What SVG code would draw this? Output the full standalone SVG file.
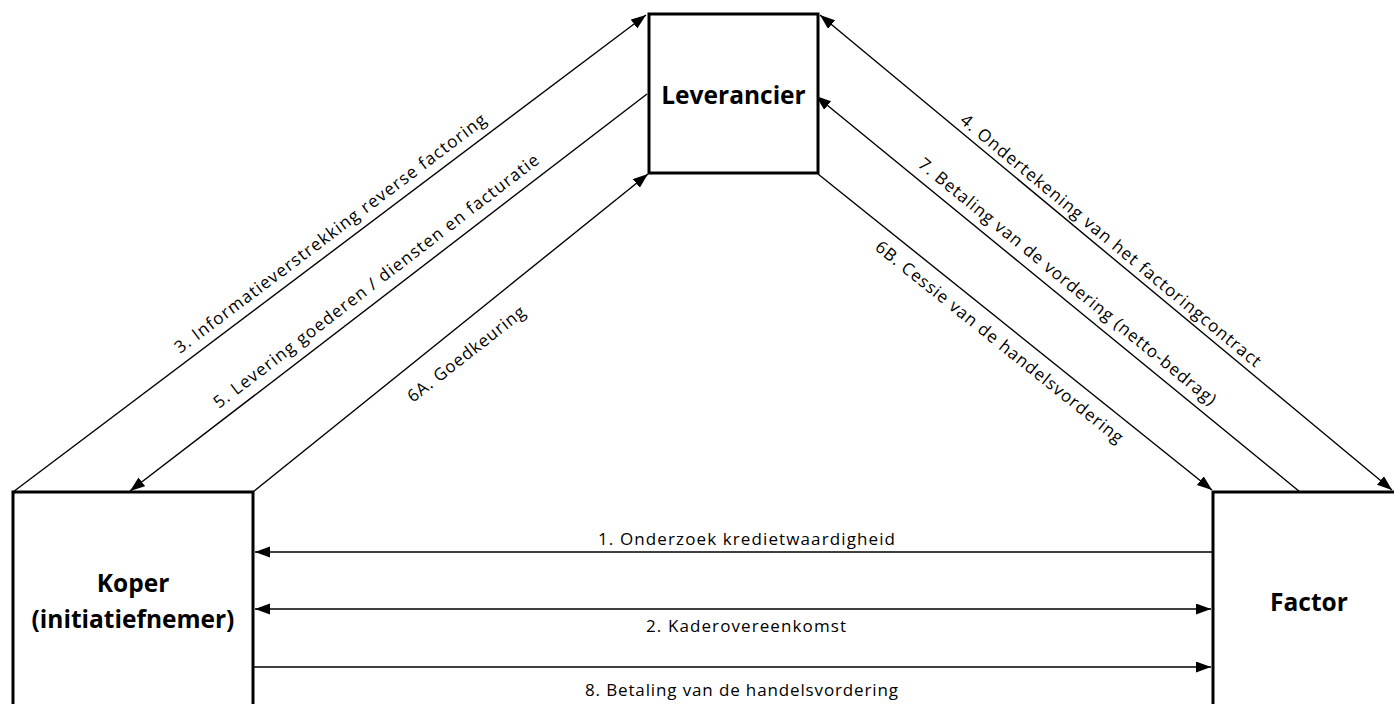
<svg xmlns="http://www.w3.org/2000/svg" width="1394" height="704" viewBox="0 0 1394 704">
<style>
.box{fill:#fff;stroke:#000;stroke-width:3}
.node{font-family:"Open Sans","Liberation Sans",sans-serif;font-weight:bold;font-size:24.5px;fill:#000;text-anchor:middle}
.lbl{font-family:"Open Sans","Liberation Sans",sans-serif;font-size:17px;fill:#000}
.con{stroke:#000;stroke-width:1.4;fill:none}
</style>
<defs>
<marker id="ah" markerUnits="userSpaceOnUse" markerWidth="16" markerHeight="12" refX="15" refY="5.5" orient="auto-start-reverse">
<path d="M0,0 L15,5.5 L0,11 z" fill="#000"/>
</marker>
</defs>
<rect width="1394" height="704" fill="#fff"/>
<g id="connectors">
<line class="con" x1="13" y1="492" x2="646" y2="15" marker-end="url(#ah)"/>
<line class="con" x1="647" y1="94" x2="130" y2="491" marker-end="url(#ah)"/>
<line class="con" x1="253" y1="492" x2="648" y2="174" marker-end="url(#ah)"/>
<line class="con" x1="820" y1="15" x2="1392" y2="490" marker-start="url(#ah)" marker-end="url(#ah)"/>
<line class="con" x1="1300" y1="492" x2="816" y2="96" marker-end="url(#ah)"/>
<line class="con" x1="818" y1="174" x2="1212" y2="490" marker-end="url(#ah)"/>
<line class="con" x1="1213" y1="552" x2="255" y2="552" marker-end="url(#ah)"/>
<line class="con" x1="255" y1="609" x2="1211" y2="609" marker-start="url(#ah)" marker-end="url(#ah)"/>
<line class="con" x1="253" y1="667" x2="1211" y2="667" marker-end="url(#ah)"/>
<text class="lbl" x="180" y="354" textLength="385" lengthAdjust="spacing" transform="rotate(-37 180 354)">3. Informatieverstrekking reverse factoring</text>
<text class="lbl" x="219" y="409" textLength="405" lengthAdjust="spacing" transform="rotate(-37.5 219 409)">5. Levering goederen / diensten en facturatie</text>
<text class="lbl" x="413" y="403" textLength="144" lengthAdjust="spacing" transform="rotate(-38 413 403)">6A. Goedkeuring</text>
<text class="lbl" x="959" y="122" textLength="385" lengthAdjust="spacing" transform="rotate(39.7 959 122)">4. Ondertekening van het factoringcontract</text>
<text class="lbl" x="917" y="166" textLength="379" lengthAdjust="spacing" transform="rotate(39.3 917 166)">7. Betaling van de vordering (netto-bedrag)</text>
<text class="lbl" x="874" y="249" textLength="312" lengthAdjust="spacing" transform="rotate(38.7 874 249)">6B. Cessie van de handelsvordering</text>
<text class="lbl" x="598" y="545" textLength="297" lengthAdjust="spacing">1. Onderzoek kredietwaardigheid</text>
<text class="lbl" x="646" y="632" textLength="200" lengthAdjust="spacing">2. Kaderovereenkomst</text>
<text class="lbl" x="585" y="696" textLength="313" lengthAdjust="spacing">8. Betaling van de handelsvordering</text>
</g>
<g id="leverancier">
<rect class="box" x="649" y="14" width="169" height="159"/>
<text class="node" x="733.5" y="104">Leverancier</text>
</g>
<g id="koper">
<rect class="box" x="13" y="492" width="240" height="230"/>
<text class="node" x="133" y="592">Koper</text>
<text class="node" x="133" y="628">(initiatiefnemer)</text>
</g>
<g id="factor">
<rect class="box" x="1213" y="492" width="200" height="230"/>
<text class="node" x="1309" y="611">Factor</text>
</g>
</svg>
